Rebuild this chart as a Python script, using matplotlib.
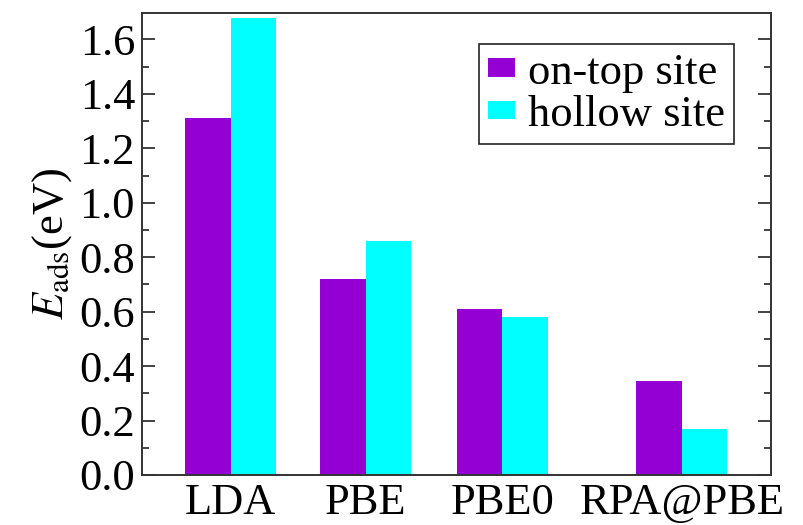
import matplotlib
matplotlib.use('Agg')
import matplotlib.pyplot as plt
import numpy as np

methods = ['LDA', 'PBE', 'PBE0', 'RPA@PBE']
on_top = [1.31, 0.72, 0.61, 0.345]
hollow = [1.68, 0.86, 0.58, 0.17]

plt.rcParams['font.family'] = 'serif'
plt.rcParams['font.serif'] = ['Liberation Serif', 'DejaVu Serif']
plt.rcParams['mathtext.fontset'] = 'stix'

fig = plt.figure(figsize=(8.04, 5.25), dpi=100)
ax = fig.add_axes([142/804, 1-475/525, (771-142)/804, (475-13)/525])

# group centres (RPA@PBE sits a bit further right in the original)
pos = np.array([1.0, 2.0, 3.01, 4.34])
w = 0.337
ax.bar(pos - w/2, on_top, w, color='#9400d3', label='on-top site')
ax.bar(pos + w/2, hollow, w, color='#00ffff', label='hollow site')

ax.set_xlim(0.345, 5.0)
ax.set_ylim(0, 1.697)
ax.set_xticks(pos)
ax.set_xticklabels(methods)
ax.set_yticks(np.arange(0, 1.61, 0.2))
ax.set_yticklabels(['%.1f' % v for v in np.arange(0, 1.61, 0.2)])
ax.set_yticks(np.arange(0.1, 1.7, 0.2), minor=True)

ax.tick_params(axis='x', length=0, pad=6, labelsize=32)
ax.tick_params(axis='y', which='both', direction='in', right=True, labelsize=32, pad=5, color='#222222')
ax.tick_params(axis='y', which='major', length=9.5, width=1.2)
ax.tick_params(axis='y', which='minor', length=5, width=1.2)

for s in ax.spines.values():
    s.set_linewidth(1.4)
    s.set_color('#333333')

ax.set_ylabel(r'$E_{\rm ads}$(eV)', fontsize=32, labelpad=4)

leg = ax.legend(loc='upper right', bbox_to_anchor=(0.941, 0.933), borderaxespad=0,
                fontsize=32, handlelength=0.6, handleheight=0.27, handletextpad=0.3,
                labelspacing=0.05, borderpad=0.2, fancybox=False, framealpha=1)
leg.get_frame().set_edgecolor('#222222')
leg.get_frame().set_linewidth(1.2)

fig.savefig('out.png', dpi=100)
